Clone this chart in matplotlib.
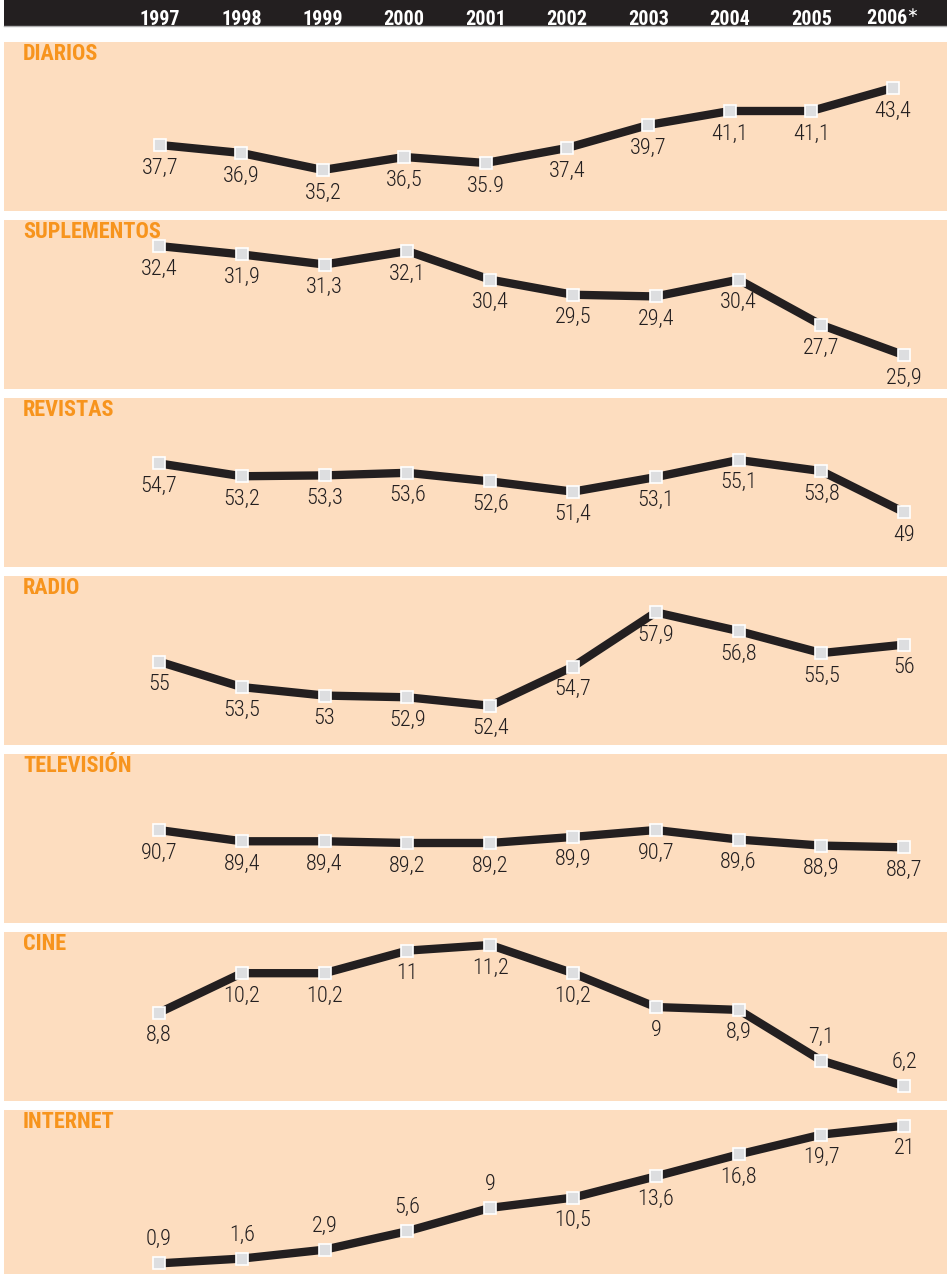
import matplotlib.pyplot as plt
from matplotlib import font_manager as fm

years = ['1997', '1998', '1999', '2000', '2001', '2002', '2003', '2004', '2005', '2006']

titles = ['DIARIOS', 'SUPLEMENTOS', 'REVISTAS', 'RADIO', 'TELEVISIÓN', 'CINE', 'INTERNET']
diarios = [37.7, 36.9, 35.2, 36.5, 35.9, 37.4, 39.7, 41.1, 41.1, 43.4]
suplementos = [32.4, 31.9, 31.3, 32.1, 30.4, 29.5, 29.4, 30.4, 27.7, 25.9]
revistas = [54.7, 53.2, 53.3, 53.6, 52.6, 51.4, 53.1, 55.1, 53.8, 49]
radio = [55, 53.5, 53, 52.9, 52.4, 54.7, 57.9, 56.8, 55.5, 56]
television = [90.7, 89.4, 89.4, 89.2, 89.2, 89.9, 90.7, 89.6, 88.9, 88.7]
cine = [8.8, 10.2, 10.2, 11, 11.2, 10.2, 9, 8.9, 7.1, 6.2]
internet = [0.9, 1.6, 2.9, 5.6, 9, 10.5, 13.6, 16.8, 19.7, 21]
series = [diarios, suplementos, revistas, radio, television, cine, internet]

# labels printed above the point (everything else sits below)
above = {5: [8, 9], 6: [0, 1, 2, 3, 4]}
# the source prints this one with a dot
label_override = {(0, 4): '35.9'}

# each panel has its own vertical scale in the original
ylims = [(31.1, 48.0), (23.89, 33.95), (42.61, 62.33), (50.09, 60.04),
         (79.95, 99.49), (5.67, 11.66), (-0.65, 23.29)]

BG = '#FDDDBF'
ORANGE = '#F7941D'
DARK = '#231F20'

NARROW_FILES = ['LiberationSansNarrow', 'NotoSans-Condensed', 'RobotoCondensed',
                'OpenSans-Condensed', 'OpenSans_Condensed', 'DejaVuSansCondensed']


def _w(f):
    w = f.weight
    if isinstance(w, str):
        w = fm.weight_dict.get(w, 400)
    return w


def find_narrow(wmin, wmax):
    cands = []
    for f in fm.fontManager.ttflist:
        name = f.fname.split('/')[-1]
        rank = None
        for j, p in enumerate(NARROW_FILES):
            if name.startswith(p):
                rank = j
                break
        if rank is None or f.style != 'normal':
            continue
        if not (wmin <= _w(f) <= wmax):
            continue
        cands.append((rank, name, f.fname))
    if cands:
        cands.sort()
        return fm.FontProperties(fname=cands[0][2]), cands[0][1]
    return None, ''


FP_REG, REG_NAME = find_narrow(380, 420)
FP_LIGHT, _ = find_narrow(280, 320)
FP_BOLD, BOLD_NAME = find_narrow(650, 750)
if FP_REG is None:
    FP_REG = fm.FontProperties(family='Liberation Sans')
if FP_BOLD is None:
    FP_BOLD = fm.FontProperties(family='Liberation Sans', weight='bold')
if FP_LIGHT is None:
    FP_LIGHT = FP_REG
# DejaVu condensed runs wider than the original face, so shrink it a little
shrink = 0.86 if REG_NAME.startswith('DejaVu') else 1.0


def fmt(v):
    if float(v).is_integer():
        return str(int(v))
    return ('%.1f' % v).replace('.', ',')


W, H = 947, 1274
fig = plt.figure(figsize=(W / 100, H / 100), dpi=100)
x = list(range(len(years)))

# header bar with the years
hx = fig.add_axes([4 / W, 1 - 26 / H, 943 / W, 26 / H])
hx.set_facecolor(DARK)
hx.set_xlim(-1.916, 9.668)
hx.set_ylim(0, 1)
hx.set_xticks([])
hx.set_yticks([])
for s in ['top', 'left', 'right']:
    hx.spines[s].set_visible(False)
hx.spines['bottom'].set_color('#B0B0B0')
hx.spines['bottom'].set_linewidth(1)
for i, yr in enumerate(years):
    lab = yr + r'$^{\ast}$' if i == len(years) - 1 else yr
    hx.text(i, 0.04, lab, color='white', fontproperties=FP_BOLD,
            fontsize=14.5 * shrink, ha='center', va='baseline')

for k, (title, vals) in enumerate(zip(titles, series)):
    top = 42 + 178 * k
    bottom = min(top + 169, H)
    ax = fig.add_axes([4 / W, 1 - bottom / H, 943 / W, (bottom - top) / H])
    ax.set_facecolor(BG)
    if k == 0:
        ax.set_xlim(-1.916, 9.668)
    else:
        ax.set_xlim(-1.872, 9.517)
    ax.set_ylim(*ylims[k])
    ax.set_xticks([])
    ax.set_yticks([])
    for s in ax.spines.values():
        s.set_visible(False)

    ax.plot(x, vals, color=DARK, lw=6, solid_joinstyle='miter',
            solid_capstyle='butt', zorder=2, clip_on=False)
    ax.plot(x, vals, ls='none', marker='s', ms=8, mfc='#DDDEE0', mec='white',
            mew=1.2, zorder=3, clip_on=False)

    for i, v in enumerate(vals):
        txt = label_override.get((k, i), fmt(v))
        if i in above.get(k, []):
            ax.annotate(txt, (i, v), xytext=(0, 13), textcoords='offset points',
                        ha='center', va='baseline', fontproperties=FP_LIGHT,
                        fontsize=16 * shrink, color=DARK, zorder=4)
        else:
            ax.annotate(txt, (i, v), xytext=(0, -9), textcoords='offset points',
                        ha='center', va='top', fontproperties=FP_LIGHT,
                        fontsize=16 * shrink, color=DARK, zorder=4)

    ax.annotate(title, (0, 1), xycoords='axes fraction', xytext=(13.7, -0.5),
                textcoords='offset points', ha='left', va='top',
                fontproperties=FP_BOLD, fontsize=16 * shrink, color=ORANGE)

fig.savefig('out.png', dpi=100, facecolor='white')
